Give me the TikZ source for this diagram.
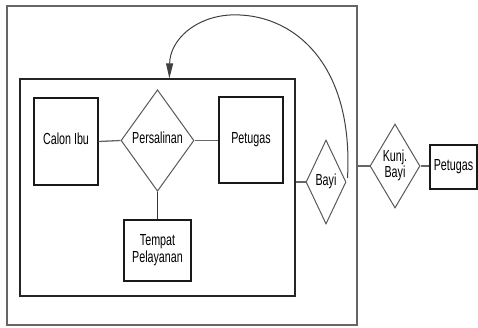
\documentclass[tikz,border=0pt]{standalone}
\usepackage{fontspec}
\setmainfont{Liberation Sans}
\usetikzlibrary{shapes.geometric,arrows.meta,calc}
% condensed label text, one or more lines
\newcommand{\condtxt}[2][17pt]{\scalebox{0.67}[1]{\fontsize{16}{#1}\selectfont\begin{tabular}{@{}c@{}}#2\end{tabular}}}
\begin{document}
\begin{tikzpicture}[x=1pt,y=-1pt,
  entity/.style={draw=black!90,line width=1.1pt,rectangle,inner sep=0pt},
  relation/.style={draw=black!65,line width=1pt,diamond,aspect=0.6,inner sep=0pt},
  link/.style={draw=black!60,line width=1.3pt},
  frame/.style={draw,rectangle,inner sep=0pt}]
\useasboundingbox (0,0) rectangle (478,327);

% enclosing frames
\node[frame,draw=black!60,line width=1.2pt,minimum width=350pt,minimum height=319pt] (outer) at (182,165.5) {};
\node[frame,draw=black!85,line width=1.3pt,minimum width=275pt,minimum height=217pt] (inner) at (157.5,187.5) {};

% entities and relations inside the inner frame
\node[entity,minimum width=64pt,minimum height=87pt] (ibu) at (66,141.5) {\condtxt{Calon Ibu}};
\node[relation,minimum width=73pt,minimum height=83pt] (salin) at (157.5,140.5) {\condtxt{Persalinan}};
\node[entity,minimum width=64pt,minimum height=86pt] (petugas) at (251,140) {\raisebox{2pt}{\condtxt{Petugas}}};
\node[entity,minimum width=67pt,minimum height=61pt] (tempat) at (157.5,250.5) {\raisebox{-3pt}{\condtxt{Tempat\\Pelayanan}}};

% relations and entity outside
\node[relation,minimum width=40pt,minimum height=84pt] (bayi) at (326,182) {\condtxt{Bayi}};
\node[relation,minimum width=50pt,minimum height=84pt] (kunj) at (395,166) {\raisebox{7pt}{\condtxt[14pt]{Kunj.\\Bayi}}};
\node[entity,minimum width=47pt,minimum height=44pt] (petugas2) at (453.5,167) {\raisebox{1pt}{\condtxt{Petugas}}};

% connectors
\draw[link] (ibu.east) -- (salin.west);
\draw[link] (salin.east) -- (salin.east -| petugas.west);
\draw[link,draw=black!80,line width=1pt] (salin.south) -- (tempat.north);
\draw[link] (bayi.west -| inner.east) -- (bayi.west);
\draw[link] (kunj.west -| outer.east) -- (kunj.west);
\draw[link] (kunj.east) -- (kunj.east -| petugas2.west);

% feedback arc from Bayi back to the inner frame
\coordinate (arcend) at ($(inner.north west)+(150,0)$);
\draw[draw=black!75,line width=1pt,-{Triangle[length=15pt,width=7pt]}]
  ($(bayi.east)+(1,-4)$) .. controls (354,60) and (290,12) .. (230,15)
  .. controls (195,17) and (170,40) .. (arcend);
\end{tikzpicture}
\end{document}
